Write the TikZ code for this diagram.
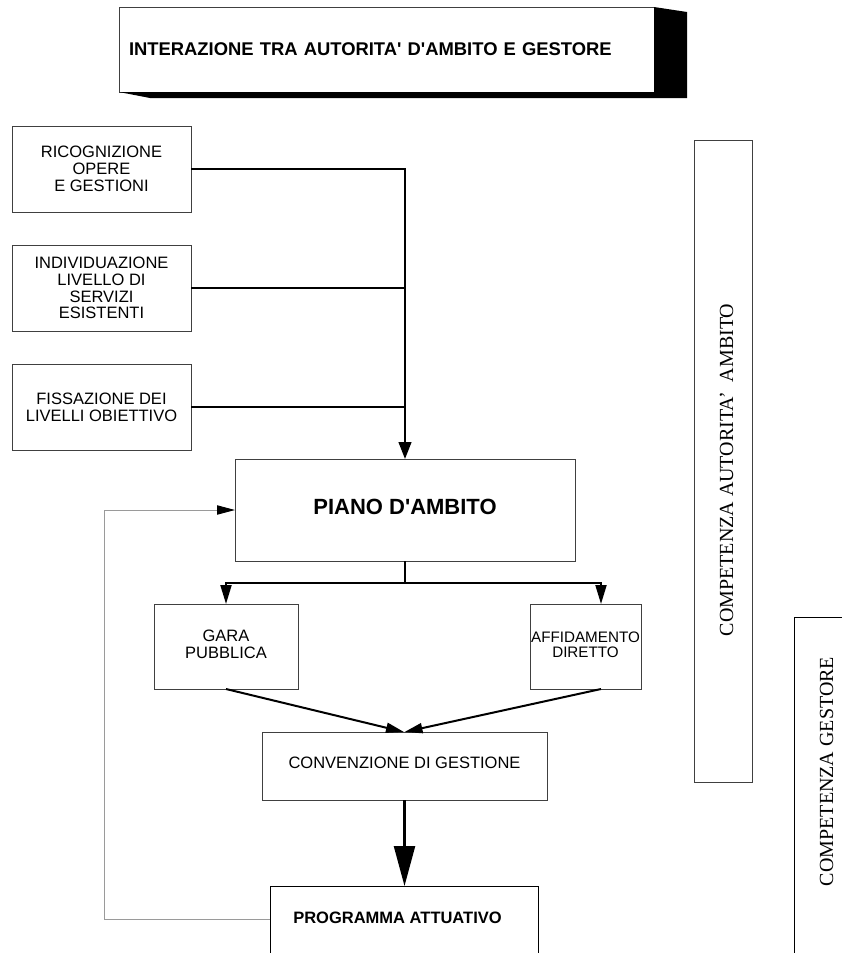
\documentclass[tikz,border=0pt]{standalone}
\usepackage{fontspec}
\setmainfont{Liberation Sans}
\newfontfamily\timesf{Liberation Serif}
\usetikzlibrary{arrows.meta}
\definecolor{boxc}{HTML}{404040}
\definecolor{fbc}{HTML}{9A9A9A}
\begin{document}
\begin{tikzpicture}[x=1pt,y=-1pt,
  box/.style={draw=boxc, line width=1pt, inner sep=0pt, outer sep=0pt, align=center,
    font=\fontsize{16.5}{16.7}\selectfont},
  boldtxt/.style={font=\bfseries\fontsize{16.5}{17}\selectfont, inner sep=0pt},
  conn/.style={line width=2pt, black},
  trunkarrow/.style={line width=2.2pt, black, -{Triangle[length=17pt,width=12.7pt]}},
  brarrow/.style={line width=2pt, black, -{Triangle[length=19pt,width=11pt]}},
  cvarrow/.style={line width=2pt, black, -{Triangle[length=18pt,width=10pt]}},
  bigarrow/.style={line width=2.3pt, black, -{Triangle[length=40pt,width=21pt]}},
  fbline/.style={line width=1pt, fbc, -{Triangle[length=18pt,width=9.3pt,color=black]}},
  vtext/.style={rotate=90, inner sep=0pt, font=\timesf\fontsize{20}{20}\selectfont}]
\useasboundingbox (0,0) rectangle (842,953);
\clip (0,0) rectangle (842,953);

% title box with shadow
\node[draw=boxc, line width=1pt, fill=white, anchor=north west, inner xsep=10pt, inner ysep=0pt,
  outer sep=0pt, text width=515pt, minimum height=85pt, align=left,
  font=\bfseries\fontsize{18.4}{19}\selectfont] (title) at (119,7)
  {INTERAZIONE TRA AUTORITA\textquotesingle\ D\textquotesingle AMBITO E GESTORE};
\fill[black] (title.north east) -- (687,12) -- (687,98) -- (150,98) -- (title.south west)
  -- (title.south east) -- cycle;

% left boxes
\node[box, minimum width=179pt, minimum height=86pt] (ric) at (101.5,169)
  {RICOGNIZIONE\\OPERE\\E GESTIONI};
\node[box, minimum width=179pt, minimum height=86pt] (ind) at (101.5,288)
  {INDIVIDUAZIONE\\LIVELLO DI\\SERVIZI\\ESISTENTI};
\node[box, minimum width=179pt, minimum height=86pt] (fis) at (101.5,407)
  {FISSAZIONE DEI\\LIVELLI OBIETTIVO};

% piano
\node[box, minimum width=340pt, minimum height=102pt,
  font=\bfseries\fontsize{22}{24}\selectfont] (piano) at (405,510)
  {PIANO D\textquotesingle AMBITO\hspace{10pt}\\[-18pt]\mbox{}};

% gara / affidamento
\node[box, minimum width=144pt, minimum height=85pt] (gara) at (226,646.5)
  {GARA\\PUBBLICA\\[-12.7pt]\mbox{}};
\node[box, minimum width=111pt, minimum height=85pt,
  font=\fontsize{15.2}{15.5}\selectfont] (affid) at (585.5,646.5)
  {AFFIDAMENTO\\DIRETTO\\[-11.5pt]\mbox{}};

% convenzione
\node[box, minimum width=285pt, minimum height=68pt] (conv) at (404.5,766)
  {CONVENZIONE DI GESTIONE\hspace{12pt}\\[-10.7pt]\mbox{}};

% programma attuativo (bottom edge beyond page)
\node[draw=black, line width=1pt, inner sep=0pt, outer sep=0pt, anchor=north west,
  minimum width=268pt, minimum height=90pt] (prog) at (270,886) {};
\node[boldtxt] (progt) at (397.5,918) {PROGRAMMA ATTUATIVO};

% competence boxes
\node[draw=boxc, line width=1pt, inner sep=0pt, outer sep=0pt,
  minimum width=58pt, minimum height=642pt] (aut) at (723,461) {};
\node[vtext] (autt) at (726.5,470) {COMPETENZA AUTORITA’\ \ AMBITO};
\node[draw=black, line width=1pt, inner sep=0pt, outer sep=0pt, anchor=north west,
  minimum width=80pt, minimum height=360pt] (ges) at (794,617) {};
\node[vtext] (gest) at (826.5,771.5) {COMPETENZA GESTORE};

% connectors from left boxes
\draw[trunkarrow] (ric.east) -| (piano.north);
\draw[conn] (ind.east) -- (ind.east -| piano.north);
\draw[conn] (fis.east) -- (fis.east -| piano.north);

% branch
\coordinate (br) at (piano.south |- 0,583);
\draw[conn] (piano.south) -- (br);
\draw[brarrow] (br) -| (gara.north);
\draw[brarrow] (br) -| ([xshift=15.5pt]affid.north);

% converging
\draw[cvarrow] (gara.south) -- ([xshift=-0.5pt]conv.north);
\draw[cvarrow] ([xshift=15.5pt]affid.south) -- (conv.north);

% big arrow
\draw[bigarrow] (conv.south) -- (conv.south |- prog.north);

% feedback
\coordinate (fbc) at (104,510);
\draw[fbline] (prog.north west |- 0,919) -| (fbc) -- (piano.west);
\end{tikzpicture}
\end{document}
